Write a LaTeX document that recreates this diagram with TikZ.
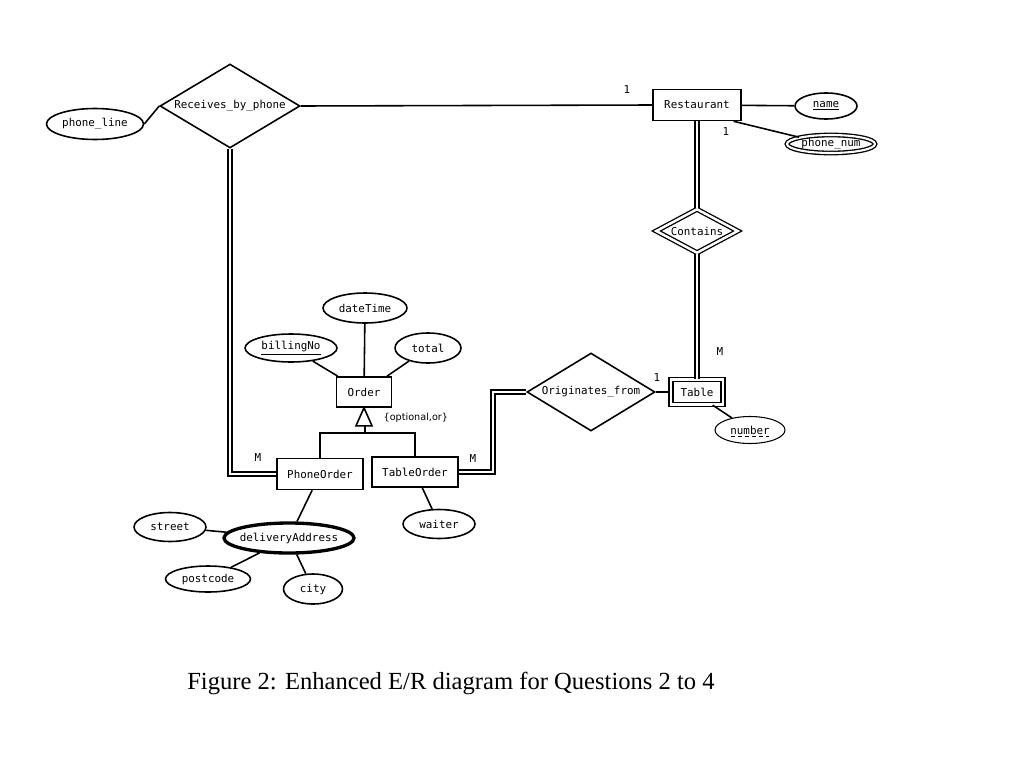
\documentclass[tikz,border=0pt]{standalone}
\usepackage{fontspec}
\setmainfont{Liberation Serif}
\newfontfamily\ermono{DejaVu Sans Mono}
\newfontfamily\ersans{DejaVu Sans}
\usetikzlibrary{shapes.geometric}
\tikzset{
	entity node/.style={rectangle,draw,line width=0.9pt,inner sep=0pt},
	weak node/.style={rectangle,draw,double,double distance=1.4pt,line width=0.75pt,inner sep=0pt},
	rel node/.style={diamond,draw,line width=0.9pt,inner sep=0pt},
	attr node/.style={ellipse,draw,line width=0.9pt,inner xsep=-2pt,inner ysep=0pt},
	dbl line/.style={double,double distance=1.4pt,line width=0.75pt},
	card/.style={inner sep=0pt}
}

\begin{document}
\begin{tikzpicture}[x=0.02cm,y=-0.02cm,line width=0.9pt,
	    font=\ermono\fontsize{6.2}{7}\selectfont]
	\useasboundingbox (0,0) rectangle (1024,781);
	% entities
	\node [entity node,minimum width=1.76cm,minimum height=0.62cm] (rest) at (697,105) {Restaurant};
	\node [weak node,minimum width=1.04cm,minimum height=0.5cm] (tbl) at (697,392) {Table};
	\node [entity node,minimum width=1.1cm,minimum height=0.6cm] (order) at (364,392) {Order};
	\node [entity node,minimum width=1.72cm,minimum height=0.62cm] (phord) at (320,474) {PhoneOrder};
	\node [entity node,minimum width=1.72cm,minimum height=0.6cm] (tbord) at (415,472) {TableOrder};
	% relationships
	\node [rel node,aspect=1.67,minimum width=2.8cm,minimum height=1.68cm] (recv) at (230,106) {Receives\_by\_phone};
	\node [rel node,aspect=1.64,minimum width=2.56cm,minimum height=1.56cm] (orig) at (591,392) {Originates\_from};
	\node [rel node,double,double distance=1.4pt,line width=0.75pt,aspect=1.8,
	       minimum width=1.64cm,minimum height=0.88cm] (cont) at (697,231) {Contains};
	% attributes
	\node [attr node,minimum width=1.94cm,minimum height=0.62cm] (phline) at (95,124) {phone\_line};
	\node [attr node,minimum width=1.24cm,minimum height=0.52cm] (name) at (826,106) {\underline{name}};
	\node [attr node,double,double distance=1.2pt,line width=0.75pt,
	       minimum width=1.76cm,minimum height=0.36cm] (phnum) at (831,144) {phone\_num};
	\node [attr node,minimum width=1.68cm,minimum height=0.6cm] (dtime) at (365,308) {dateTime};
	\node [attr node,minimum width=1.84cm,minimum height=0.56cm] (billno) at (291,348) {\underline{billingNo}};
	\node [attr node,minimum width=1.32cm,minimum height=0.6cm] (total) at (428,348) {total};
	\node [attr node,line width=0.6pt,minimum width=1.4cm,minimum height=0.54cm] (number) at (750,430) {number};
	\node [attr node,line width=1.9pt,minimum width=2.6cm,minimum height=0.6cm] (deladdr) at (289,538) {deliveryAddress};
	\node [attr node,minimum width=1.44cm,minimum height=0.58cm] (street) at (170,527) {street};
	\node [attr node,minimum width=1.7cm,minimum height=0.52cm] (pcode) at (208,579) {postcode};
	\node [attr node,minimum width=1.18cm,minimum height=0.6cm] (city) at (313,589) {city};
	\node [attr node,minimum width=1.44cm,minimum height=0.58cm] (waiter) at (439,524) {waiter};
	% dashed key underline
	\draw [line width=0.5pt,dash pattern=on 2.5pt off 1.5pt] ([xshift=-11pt,yshift=-3.5pt]number.center) -- ([xshift=11pt,yshift=-3.5pt]number.center);

	% relationship lines
	\draw (phline.east) -- (recv.west);
	\draw (recv.east) -- (rest.west);
	\draw [dbl line] (rest.south) -- (cont.north);
	\draw [dbl line] (cont.south) -- (tbl.north);
	\draw (orig.east) -- (tbl.west);
	\draw [dbl line] (recv.south) |- (phord.west);
	\coordinate (obend) at (493,392);
	\draw [dbl line] (tbord.east) -| (obend) -- (orig.west);
	% attribute lines
	\draw (rest) -- (name);
	\draw (rest.-24) -- (phnum.168);
	\draw (tbl.-40) -- (number);
	\draw (dtime) -- (order);
	\draw (billno) -- (order);
	\draw (total) -- (order);
	\draw (phord) -- (deladdr);
	\draw (street) -- (deladdr);
	\draw (pcode) -- (deladdr);
	\draw (city) -- (deladdr);
	\draw (tbord) -- (waiter);
	% specialisation
	\coordinate (isab) at (365,425);
	\coordinate (isaj) at (365,433);
	\draw (order.south) -- ++(-8,18) -- ++(16,0) -- cycle;
	\draw (isab) -- (isaj);
	\draw (phord.north) |- (isaj) -| (tbord.north);
	\node [font=\ersans\fontsize{5.5}{6}\selectfont,anchor=west] (spec) at (377,418) {\{optional,or\}};

	% cardinalities
	\node [card] (c1) at (627,90) {1};
	\node [card] (c2) at (726,132) {1};
	\node [card] (c3) at (720,352) {M};
	\node [card] (c4) at (657,378) {1};
	\node [card] (c5) at (258,458) {M};
	\node [card] (c6) at (473,459) {M};

	% caption
	\node [font=\rmfamily\fontsize{14}{16}\selectfont] (cap) at (451,683) {Figure 2: Enhanced E/R diagram for Questions 2 to 4};
\end{tikzpicture}
\end{document}
